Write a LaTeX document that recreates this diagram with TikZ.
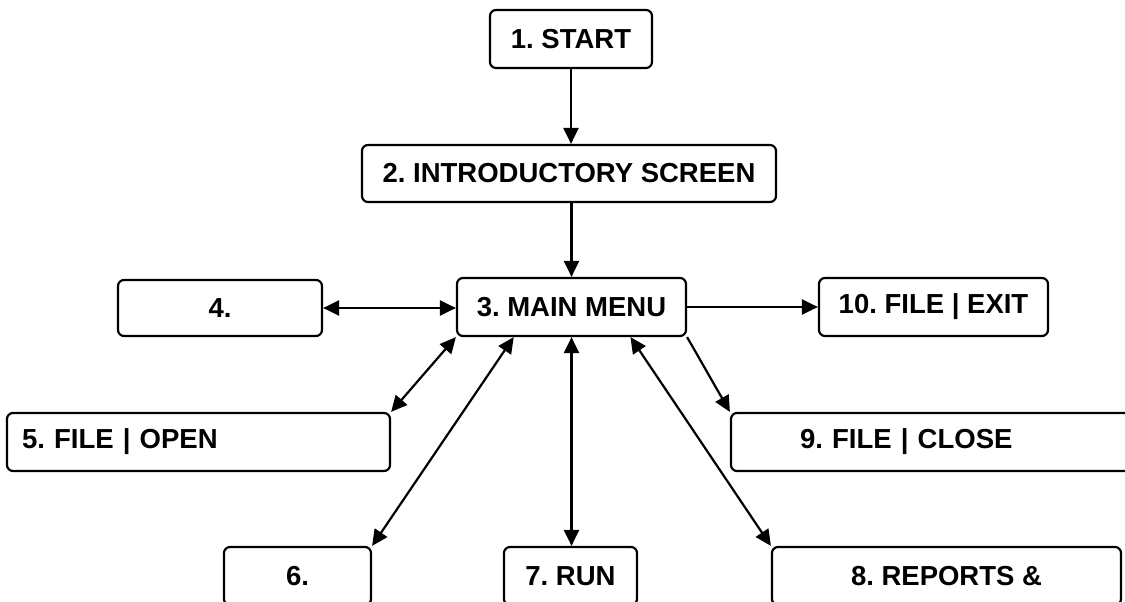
\documentclass[tikz,border=0pt]{standalone}
\usepackage{fontspec}
\setmainfont{Liberation Sans}
\usepackage{tikz}
\usetikzlibrary{arrows.meta, positioning, calc}
\frenchspacing

\begin{document}
\begin{tikzpicture}[x=1pt, y=-1pt, line width=2.2pt,
    menubox/.style={draw, rounded corners=6pt, fill=white, inner sep=0pt,
      minimum height=58pt, font=\fontsize{27.5}{32}\selectfont\bfseries},
    link/.style={-{Triangle[length=16pt, width=15pt]}},
    dlink/.style={{Triangle[length=16pt, width=15pt]}-{Triangle[length=16pt, width=15pt]}}]
          % page frame
          \useasboundingbox (0,0) rectangle (1125,602);
          \clip (0,0) rectangle (1125,602);

          % Boxes
          \node[menubox, minimum width=162pt] (start) at (571,39) {1. START};
          \node[menubox, minimum width=414pt, minimum height=57pt] (intro) at (569,173.5) {2. INTRODUCTORY SCREEN};
          \node[menubox, minimum width=229pt] (mainmenu) at (571.5,307) {3. MAIN MENU};
          \node[menubox, minimum width=204pt, minimum height=56pt] (four) at (220,308) {4.};
          \node[menubox, inner xsep=15pt, text width=353pt, align=left] (fopen) at (198.5,442) {5. FILE | OPEN};
          \node[menubox, minimum width=147pt] (six) at (297.5,576) {6.};
          \node[menubox, minimum width=133pt] (run) at (570.5,576) {7. RUN};
          \node[menubox, minimum width=349pt] (reports) at (946.5,576) {8. REPORTS \&};
          \node[menubox, inner xsep=69pt, text width=271pt, align=left] (fclose) at (935.5,442) {9. FILE | CLOSE};
          \node[menubox, minimum width=229pt] (fexit) at (933.5,307) {10. FILE | EXIT};

          % Connectors
          \draw[link] (start.south) -- (start.south |- intro.north);
          \draw[link] (mainmenu.north |- intro.south) -- (mainmenu.north);
          \draw[dlink] (four.east) -- (four.east -| mainmenu.west);
          \draw[link] (mainmenu.east) -- (mainmenu.east -| fexit.west);
          \draw[dlink] (mainmenu.south west) -- (fopen.north east);
          \draw[dlink] ($(mainmenu.south west)!0.25!(mainmenu.south east)$) -- (six.north east);
          \draw[dlink] (mainmenu.south) -- (mainmenu.south |- run.north);
          \draw[dlink] ($(mainmenu.south west)!0.755!(mainmenu.south east)$) -- (reports.north west);
          \draw[link] (mainmenu.south east) -- (fclose.north west);
        \end{tikzpicture}
\end{document}
